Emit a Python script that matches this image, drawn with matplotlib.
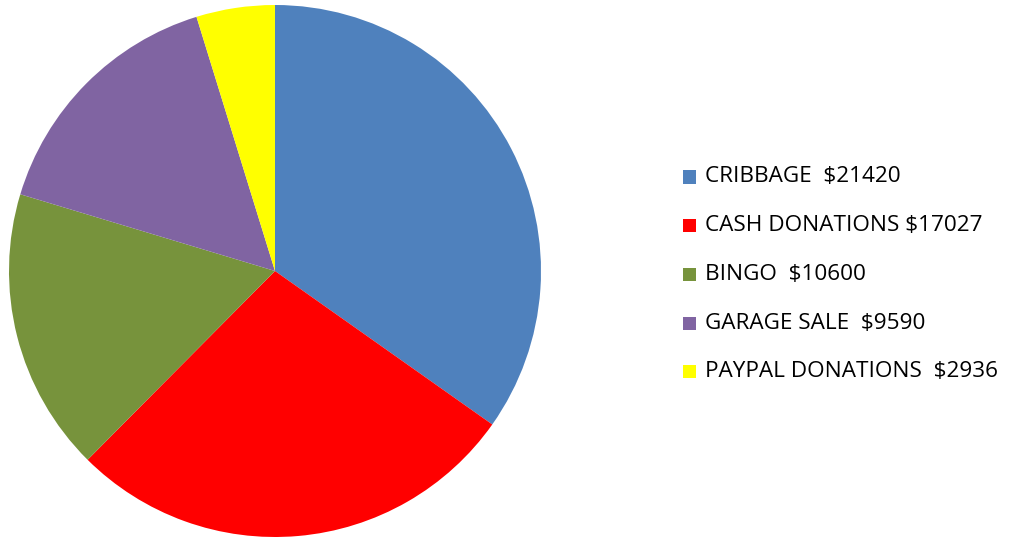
import matplotlib.pyplot as plt
from matplotlib.patches import Rectangle

labels = ['CRIBBAGE  $21420', 'CASH DONATIONS $17027', 'BINGO  $10600',
          'GARAGE SALE  $9590', 'PAYPAL DONATIONS  $2936']
values = [21420, 17027, 10600, 9590, 2936]
colors = ['#4F81BD', '#FF0000', '#77933C', '#8064A2', '#FFFF00']

W, H = 1009, 537
fig = plt.figure(figsize=(W / 100, H / 100), dpi=100)

# Camembert
ax = fig.add_axes([9 / W, 0, 532 / W, 532 / H])
ax.pie(values, colors=colors, startangle=90, counterclock=False,
       radius=1, wedgeprops={'linewidth': 0})
ax.set_xlim(-1, 1)
ax.set_ylim(-1, 1)
ax.set_aspect('equal')
ax.axis('off')

# Légende dessinée à la main
y0 = 177
pas = 48.7
for i, (lab, col) in enumerate(zip(labels, colors)):
    y = y0 + i * pas
    fig.patches.append(Rectangle((683 / W, 1 - (y + 6.5) / H), 13 / W, 13 / H,
                                 transform=fig.transFigure, facecolor=col, edgecolor='none'))
    fig.text(705 / W, 1 - y / H, lab, fontsize=16.2, va='center', ha='left',
             family='Open Sans', color='#000000')

plt.savefig('out.png', dpi=100)
plt.close()
